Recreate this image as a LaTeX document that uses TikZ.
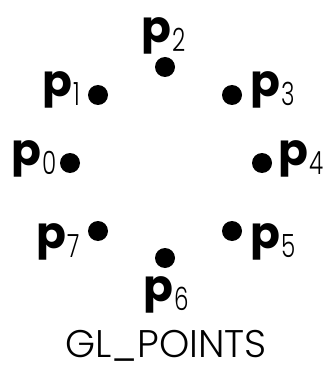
\documentclass[tikz,border=0pt]{standalone}
\usepackage{fontspec}
\setmainfont{Poppins}
\newfontfamily\lightf{Poppins}[UprightFont={* Light}]
\newcommand\plab[1]{{\fontsize{44}{44}\selectfont\bfseries p}\kern1pt\raisebox{-9pt}{\scalebox{0.72}[1]{\lightf\fontsize{32}{32}\selectfont #1}}}
\tikzset{
  dot/.style={circle, fill=black, inner sep=0pt, minimum size=20pt},
  lab/.style={anchor=base west, inner sep=0pt}
}
\begin{document}
\begin{tikzpicture}[x=1pt,y=-1pt]
\useasboundingbox (0,0) rectangle (323,366);
\node[dot] (d0) at (70,163) {};
\node[dot] (d1) at (98,95) {};
\node[dot] (d2) at (165,67) {};
\node[dot] (d3) at (232,95) {};
\node[dot] (d4) at (262,163) {};
\node[dot] (d5) at (232,231) {};
\node[dot] (d6) at (165,258) {};
\node[dot] (d7) at (98,231) {};
\node[lab] (l0) at (11,165) {\plab{0}};
\node[lab] (l1) at (42,97) {\plab{1}};
\node[lab] (l2) at (141,43) {\plab{2}};
\node[lab] (l3) at (250,97) {\plab{3}};
\node[lab] (l4) at (278,165) {\plab{4}};
\node[lab] (l5) at (250,248) {\plab{5}};
\node[lab] (l6) at (143,301) {\plab{6}};
\node[lab] (l7) at (36,248) {\plab{7}};
\node[anchor=base, inner sep=0pt] (t) at (166,357) {\raisebox{0pt}[\height][0pt]{\lightf\fontsize{38.5}{38.5}\selectfont GL\_POINTS}};
\end{tikzpicture}
\end{document}
